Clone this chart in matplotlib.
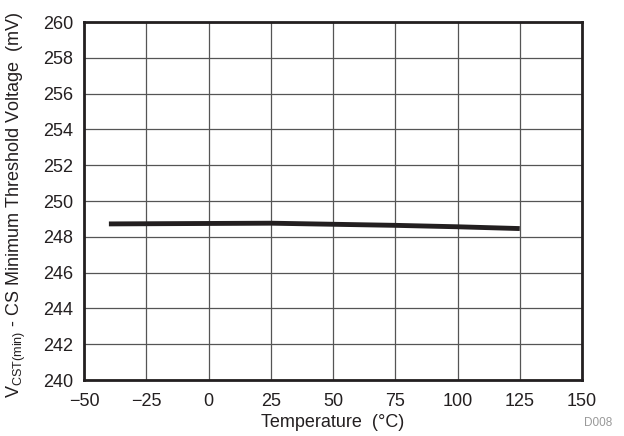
import matplotlib
matplotlib.use("Agg")
import matplotlib.pyplot as plt

temps = [-40, 25, 50, 75, 100, 125]
vcst = [248.72, 248.76, 248.70, 248.64, 248.56, 248.46]
xticks = [-50, -25, 0, 25, 50, 75, 100, 125, 150]
xticklabels = ["\u221250", "\u221225", "0", "25", "50", "75", "100", "125", "150"]
yticks = [240, 242, 244, 246, 248, 250, 252, 254, 256, 258, 260]

plt.rcParams['font.family'] = ['Liberation Sans', 'DejaVu Sans']
plt.rcParams['mathtext.default'] = 'regular'

fig = plt.figure(figsize=(6.24, 4.36), dpi=100)
ax = fig.add_axes([84/624, 1 - 380/436, (582-84)/624, (380-22)/436])

ax.plot(temps, vcst, color='#231f20', lw=3.5, solid_capstyle='butt')
ax.set_xlim(-50, 150)
ax.set_ylim(240, 260)
ax.set_xticks(xticks)
ax.set_xticklabels(xticklabels)
ax.set_yticks(yticks)
ax.grid(True, color='#555555', lw=0.9)
ax.tick_params(axis='x', length=0, labelsize=13, pad=9, colors='#231f20')
ax.tick_params(axis='y', length=0, labelsize=13, pad=8, colors='#231f20')
for s in ax.spines.values():
    s.set_linewidth(2.0)
    s.set_color('#231f20')
ax.set_axisbelow(True)

ax.set_xlabel("Temperature  (\u00b0C)", fontsize=13, color='#231f20')
ax.xaxis.set_label_coords(0.5, -0.12)
ax.xaxis.label.set_va('center')
ax.set_ylabel("V$_{CST(min)}$ - CS Minimum Threshold Voltage  (mV)", fontsize=13, color='#231f20')
ax.yaxis.set_label_coords(-0.135, 0.49)
ax.yaxis.label.set_va('center')
fig.text(612/624, 1 - 423/436, "D008", fontsize=8.5, color='#999999', ha='right', va='center')

fig.savefig("out.png", dpi=100)
